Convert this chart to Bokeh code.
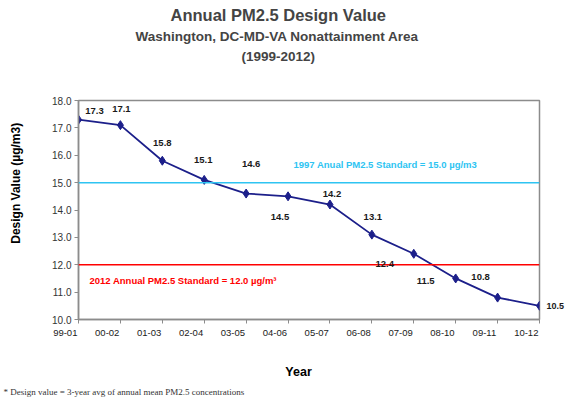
import math
from bokeh.plotting import figure
from bokeh.models import Range1d, LabelSet, Label, ColumnDataSource, FixedTicker, Span, Title, LinearAxis
from bokeh.core.properties import value
from bokeh.embed import file_html
from bokeh.resources import INLINE

# ---- data ----
periods = ["99-01", "00-02", "01-03", "02-04", "03-05", "04-06",
           "05-07", "06-08", "07-09", "08-10", "09-11", "10-12"]
design_values = [17.3, 17.1, 15.8, 15.1, 14.6, 14.5, 14.2, 13.1, 12.4, 11.5, 10.8, 10.5]
value_labels = ["17.3", "17.1", "15.8", "15.1", "14.6", "14.5",
                "14.2", "13.1", "12.4", "11.5", "10.8", "10.5"]
std_1997 = 15.0
std_2012 = 12.0
y_ticks = [10, 11, 12, 13, 14, 15, 16, 17, 18]

# label placement (screen pixel offsets from each point; last one is drawn beside the frame)
lab_dx = [16, 1, 0, -1, 5, -8, 2, 1, -29, -30, -17, 0]
lab_dy = [9, 16, 18, 20, 30, -21, 11, 18, -10, -3, 21, 0]

FONT = "Liberation Sans"
NAVY = "#1c1f8a"
CYAN = "#2ec4f2"
RED = "#ff0000"
GRAY = "#8c8c8c"
NB = "\u00a0"

xs = list(range(len(periods)))

p = figure(width=567, height=401, output_backend="svg", toolbar_location=None,
           x_range=Range1d(0, len(periods) - 1), y_range=Range1d(10, 18),
           min_border_left=78, min_border_right=19, min_border_top=100, min_border_bottom=82,
           background_fill_color="white", border_fill_color="white")
p.title.visible = False
p.grid.visible = False
p.outline_line_color = GRAY
p.outline_line_width = 1.5

# x axis (category labels nudged left like the original)
p.xaxis.ticker = FixedTicker(ticks=xs)
p.xaxis.major_label_overrides = {i: periods[i] + NB * 10 for i in xs}
p.xaxis.major_label_text_font = FONT
p.xaxis.major_label_text_font_size = "9.5px"
p.xaxis.major_label_text_color = "#1a1a1a"
p.xaxis.major_label_standoff = 3
p.xaxis.minor_tick_line_color = None
p.xaxis.major_tick_in = 0
p.xaxis.major_tick_out = 4
p.xaxis.axis_line_color = GRAY
p.xaxis.axis_line_width = 1.5
p.xaxis.major_tick_line_color = GRAY
p.xaxis.axis_label = "Year" + NB * 6
p.xaxis.axis_label_text_font = FONT
p.xaxis.axis_label_text_font_size = "12.5px"
p.xaxis.axis_label_text_font_style = "bold"
p.xaxis.axis_label_text_color = "#000000"
p.xaxis.axis_label_standoff = 24

# y axis
p.yaxis.ticker = FixedTicker(ticks=y_ticks)
p.yaxis.major_label_overrides = {t: f"{t:.1f}" for t in y_ticks}
p.yaxis.minor_tick_line_color = None
p.yaxis.major_tick_in = 0
p.yaxis.major_tick_out = 4
p.yaxis.axis_line_color = GRAY
p.yaxis.axis_line_width = 1.5
p.yaxis.major_tick_line_color = GRAY
p.yaxis.major_label_text_font = FONT
p.yaxis.major_label_text_font_size = "10px"
p.yaxis.major_label_text_color = "#333333"
p.yaxis.major_label_standoff = 3
p.yaxis.axis_label = NB * 16 + "Design Value (µg/m3)"
p.yaxis.axis_label_text_font = FONT
p.yaxis.axis_label_text_font_size = "12px"
p.yaxis.axis_label_text_font_style = "bold"
p.yaxis.axis_label_text_color = "#000000"
p.yaxis.axis_label_standoff = 26

# last value label sits just right of the frame, as in the original
right_axis = LinearAxis(ticker=FixedTicker(ticks=[design_values[-1]]),
                        major_label_overrides={design_values[-1]: value_labels[-1]},
                        axis_line_color=None, major_tick_line_color=None,
                        minor_tick_line_color=None, major_label_standoff=1,
                        major_label_text_font=FONT, major_label_text_font_size="9px",
                        major_label_text_font_style="bold", major_label_text_color="#1a1a1a")
p.add_layout(right_axis, "right")

# standards
p.add_layout(Span(location=std_1997, dimension="width", line_color=CYAN, line_width=1.5))
p.add_layout(Span(location=std_2012, dimension="width", line_color=RED, line_width=1.5))

# series
src = ColumnDataSource(dict(x=xs, y=design_values, lab=value_labels[:-1] + [""],
                            dx=lab_dx, dy=lab_dy))
p.line("x", "y", source=src, line_color=NAVY, line_width=1.8)
p.scatter("x", "y", source=src, marker="diamond", size=9, color=NAVY)

p.add_layout(LabelSet(x="x", y="y", text="lab", source=src, x_offset="dx", y_offset="dy",
                      text_align="center", text_baseline="middle", text_font=value(FONT),
                      text_font_size="9.5px", text_font_style="bold", text_color="#1a1a1a"))

# standard annotations
p.add_layout(Label(x=0, y=std_1997, x_offset=215, y_offset=18,
                   text="1997 Anual PM2.5 Standard =  15.0 µg/m3", text_align="left",
                   text_baseline="middle", text_font=FONT, text_font_size="9.5px",
                   text_font_style="bold", text_color=CYAN))
p.add_layout(Label(x=0, y=std_2012, x_offset=11, y_offset=-16,
                   text="2012 Annual PM2.5 Standard = 12.0 µg/m³", text_align="left",
                   text_baseline="middle", text_font=FONT, text_font_size="9.5px",
                   text_font_style="bold", text_color=RED))

# titles (added nearest-first)
p.add_layout(Title(text=NB, text_font_size="26px", standoff=3), "above")
p.add_layout(Title(text="(1999-2012)", align="left", offset=163, text_font=FONT,
                   text_font_size="13.5px", text_font_style="bold", standoff=3), "above")
p.add_layout(Title(text="Washington, DC-MD-VA Nonattainment Area", align="left", offset=57,
                   text_font=FONT, text_font_size="13.5px", text_font_style="bold",
                   standoff=3), "above")
p.add_layout(Title(text="Annual PM2.5 Design Value", align="left", offset=92, text_font=FONT,
                   text_font_size="16.5px", text_font_style="bold", standoff=3), "above")

# footnote
p.add_layout(Title(text="* Design value = 3-year avg of annual  mean PM2.5 concentrations",
                   align="left", offset=-75, text_font="Liberation Serif",
                   text_font_size="9px", text_font_style="normal", text_color="#333333",
                   standoff=6), "below")

open("out.html", "w").write(file_html(p, INLINE))
